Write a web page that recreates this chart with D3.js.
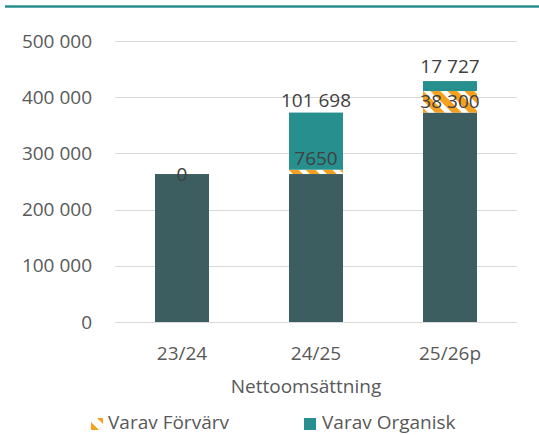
<!DOCTYPE html>
<html><head><meta charset="utf-8">
<script src="https://cdn.jsdelivr.net/npm/d3@7"></script>
<style>body{margin:0;background:#fff}svg{display:block}text{font-family:"Open Sans","Noto Sans",sans-serif}</style>
</head><body>
<script>
const categories = ["23/24", "24/25", "25/26p"];
const bas = [263300, 263300, 372650];
const forvarv = [0, 7650, 38300];
const organisk = [null, 101698, 17727];
const yTicks = [0, 100000, 200000, 300000, 400000, 500000];
const axisTitle = "Nettoomsättning";
const legendLabels = ["Varav Förvärv", "Varav Organisk"];

const W = 539, H = 435;
const cBase = "#3d5e60", cOrg = "#27908f", cOrange = "#f5a01e";
const svg = d3.select("body").append("svg").attr("width", W).attr("height", H);

const defs = svg.append("defs");
const pat = defs.append("pattern").attr("id", "hatch").attr("patternUnits", "userSpaceOnUse")
  .attr("width", 12).attr("height", 12).attr("patternTransform", "rotate(-45)");
pat.append("rect").attr("width", 12).attr("height", 12).attr("fill", "#fff");
pat.append("rect").attr("width", 7).attr("height", 12).attr("fill", cOrange);

// top line
svg.append("line").attr("x1", 5).attr("x2", W).attr("y1", 6.5).attr("y2", 6.5)
  .attr("stroke", cOrg).attr("stroke-width", 2.5);

const y = d3.scaleLinear().domain([0, 500000]).range([322, 41]);
const x = d3.scaleBand().domain(categories).range([115, 517]).paddingInner(0.597).paddingOuter(0.2985);
const loc = d3.formatLocale({decimal: ",", thousands: " ", grouping: [3], currency: ["", ""]});
const fmt = loc.format(",d");

// grid
svg.append("g").selectAll("line").data(yTicks).join("line")
  .attr("x1", 115).attr("x2", 517)
  .attr("y1", d => Math.round(y(d)) + 0.5).attr("y2", d => Math.round(y(d)) + 0.5)
  .attr("stroke", "#d9d9d9").attr("stroke-width", 1);

// y labels
const yAxis = d3.axisLeft(y).tickValues(yTicks).tickFormat(fmt).tickSize(0).tickPadding(0);
const gy = svg.append("g").attr("transform", "translate(92,0)").call(yAxis);
gy.select(".domain").remove();
gy.selectAll("text").attr("font-size", 19).attr("fill", "#595959").attr("font-family", null);

// x labels
const xAxis = d3.axisBottom(x).tickSize(0).tickPadding(0);
const gx = svg.append("g").attr("transform", "translate(0,346)").call(xAxis);
gx.select(".domain").remove();
gx.selectAll("text").attr("font-size", 19).attr("fill", "#595959").attr("font-family", null);

// stacks
const rows = categories.map((c, i) => {
  const b0 = 0, b1 = bas[i];
  const f0 = b1, f1 = b1 + forvarv[i];
  const o0 = f1, o1 = f1 + (organisk[i] || 0);
  return {c, i, b0, b1, f0, f1, o0, o1};
});
const bars = svg.append("g");
bars.selectAll(".b").data(rows).join("rect").attr("class", "b")
  .attr("x", d => x(d.c)).attr("width", x.bandwidth())
  .attr("y", d => y(d.b1)).attr("height", d => y(d.b0) - y(d.b1)).attr("fill", cBase);
bars.selectAll(".f").data(rows).join("rect").attr("class", "f")
  .attr("x", d => x(d.c)).attr("width", x.bandwidth())
  .attr("y", d => y(d.f1)).attr("height", d => y(d.f0) - y(d.f1)).attr("fill", "url(#hatch)");
bars.selectAll(".o").data(rows.filter(d => organisk[d.i] != null)).join("rect").attr("class", "o")
  .attr("x", d => x(d.c)).attr("width", x.bandwidth())
  .attr("y", d => y(d.o1)).attr("height", d => y(d.o0) - y(d.o1)).attr("fill", cOrg);

// labels
const lab = svg.append("g").attr("font-size", 19).attr("fill", "#404040").attr("text-anchor", "middle");
rows.forEach(d => {
  const cx = x(d.c) + x.bandwidth() / 2;
  const top = y(d.f1), bot = y(d.f0), h = bot - top;
  let ly = (top + bot) / 2;
  if (h > 0 && h < 14) ly = top - 11;
  lab.append("text").attr("x", cx).attr("y", ly).attr("dy", "0.35em").text(fmt(forvarv[d.i]).replace(/\s/g, forvarv[d.i] < 10000 ? "" : " "));
  if (organisk[d.i] != null) {
    lab.append("text").attr("x", cx).attr("y", y(d.o1) - (d.i === 2 ? 15 : 12)).attr("dy", "0.35em").text(fmt(organisk[d.i]));
  }
});

// axis title
svg.append("text").attr("x", 306).attr("y", 386).attr("dy", "0.35em").attr("text-anchor", "middle")
  .attr("font-size", 19).attr("fill", "#595959").text(axisTitle);

// legend
const lg = svg.append("g");
lg.append("rect").attr("x", 91).attr("y", 418).attr("width", 12).attr("height", 12).attr("fill", "#fff");
lg.append("path").attr("d", "M91,422 L91,430 L99,430 Z").attr("fill", cOrange);
lg.append("path").attr("d", "M97,418 L103,418 L103,424 Z").attr("fill", cOrange);
lg.append("text").attr("x", 108).attr("y", 429).attr("font-size", 19).attr("fill", "#595959").text(legendLabels[0]);
lg.append("rect").attr("x", 304).attr("y", 418).attr("width", 12).attr("height", 12).attr("fill", cOrg);
lg.append("text").attr("x", 322).attr("y", 429).attr("font-size", 19).attr("fill", "#595959").text(legendLabels[1]);
</script>
</body></html>
